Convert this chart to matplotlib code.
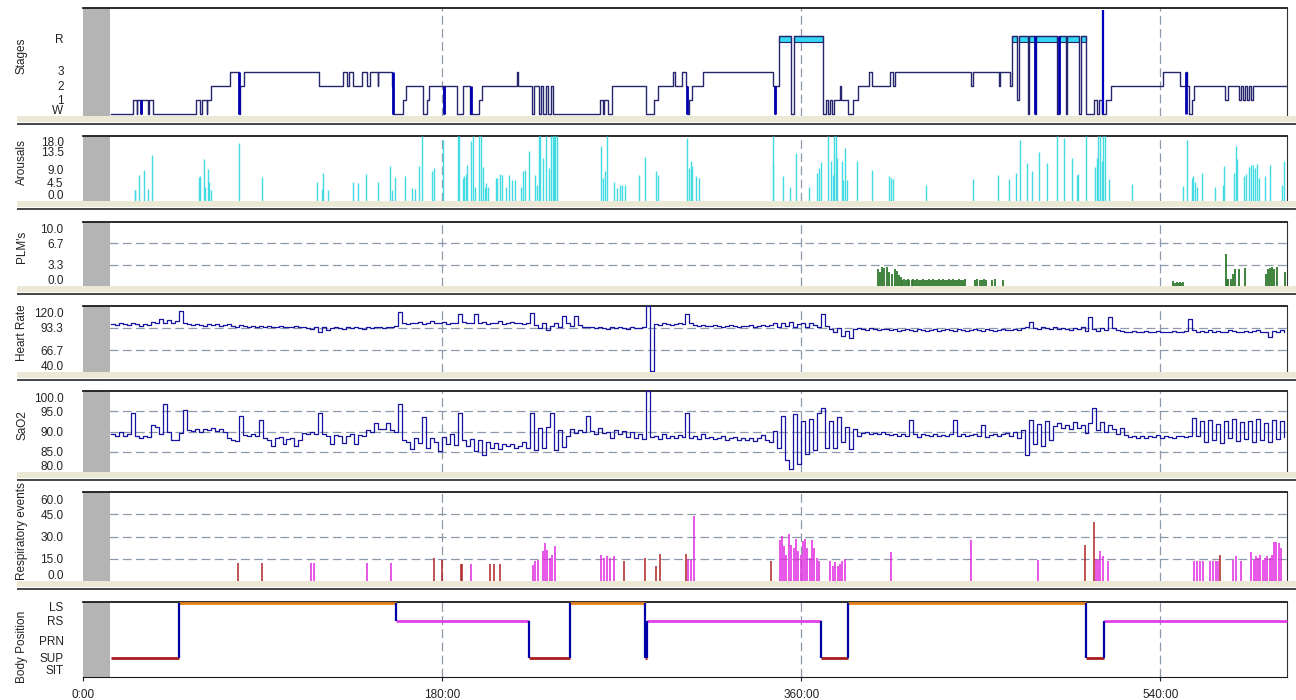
import matplotlib
matplotlib.use("Agg")
import matplotlib.pyplot as plt
from matplotlib.patches import Rectangle
import numpy

# ---- hypnogram (start minute of each run, stage code) ----
stage_start = [14.0, 25.2, 26.9, 27.3, 28.9, 29.2, 32.7, 33.2, 34.9, 56.5,
               58.6, 59.5, 62.0, 62.3, 64.0, 73.7, 78.3, 78.7, 80.9, 118.3,
               130.5, 132.2, 133.5, 135.5, 139.7, 142.2, 143.9, 147.7, 148.0, 154.9,
               155.5, 160.6, 161.9, 170.3, 172.3, 173.6, 180.8, 181.1, 187.6, 190.3,
               194.1, 198.6, 199.8, 217.4, 218.2, 224.9, 226.1, 228.7, 229.6, 230.7,
               231.9, 233.2, 234.4, 235.4, 259.1, 260.5, 261.2, 263.3, 265.0, 282.1,
               286.2, 288.4, 295.9, 296.7, 300.1, 302.3, 302.8, 304.0, 305.4, 310.9,
               345.9, 346.7, 347.1, 348.8, 354.7, 356.2, 370.8, 372.4, 373.4, 374.4,
               375.4, 376.2, 379.2, 380.0, 383.7, 386.2, 388.3, 394.1, 395.6, 404.6,
               406.0, 407.1, 444.9, 445.9, 459.1, 459.6, 464.7, 465.9, 468.0, 469.0,
               473.6, 474.2, 477.4, 477.7, 488.2, 489.0, 492.7, 493.2, 499.4, 500.1,
               502.6, 506.8, 508.5, 509.3, 510.8, 512.8, 515.1, 541.4, 549.7, 552.7,
               553.2, 554.4, 555.9, 557.1, 572.4, 573.9, 579.4, 580.4, 581.5, 582.5,
               583.5, 584.7, 585.7, 586.7]
stage_code = list("W1W1W1W1W1" "W1W123W232" "3232323232" "W12W12W2W2"
                  "W1232W2W2W" "2W2W1W1W2W" "123232W123" "2W2RWRW1W1"
                  "W121W12323" "2323232R1R" "WRWRWRWRWR" "W1W1W12323"
                  "2W12121212" "1212")
record_end = 603.5
stage_ticks = ["R", "3", "2", "1", "W"]
# short arousal / movement marks drawn heavier in the hypnogram
move_t = [28.9, 78.3, 155.5, 180.8, 194.3, 302.8, 346.7, 477.4, 489.0, 553.0]
move_top = ["1", "3", "3", "2", "2", "2", "2", "R", "R", "3"]
spike_t = [511.4]

# ---- arousals ----
arousal_t = [25.9, 26.2, 28.2, 30.6, 32.4, 34.7, 58.2, 58.7, 60.7, 61.3, 62.8, 63.3, 64.0,
             78.4, 89.6, 117.1, 119.8, 120.1, 123.0, 135.2, 137.7, 142.0, 147.7, 153.9,
             154.7, 156.4, 161.2, 164.9, 166.4, 168.6, 169.9, 175.1, 175.9, 180.3, 188.0,
             188.6, 190.3, 191.0, 192.0, 192.7, 194.3, 195.7, 196.3, 198.7, 199.3, 200.3,
             201.3, 202.0, 203.2, 207.0, 207.7, 209.0, 209.9, 212.0, 213.7, 215.0, 216.7,
             219.4, 220.4, 221.4, 223.7, 226.7, 227.4, 228.4, 229.1, 230.8, 232.1, 233.4,
             234.4, 235.4, 236.1, 236.8, 237.4, 259.8, 260.5, 261.8, 262.8, 266.2, 267.5,
             269.2, 270.2, 271.5, 278.9, 281.9, 287.2, 288.2, 303.0, 304.0, 304.6, 305.3,
             307.3, 309.0, 345.7, 346.0, 350.7, 354.4, 357.4, 363.8, 367.8, 368.8, 370.1,
             373.3, 374.8, 375.8, 376.6, 377.3, 378.1, 380.2, 381.1, 382.1, 383.1, 387.8,
             395.3, 404.1, 404.8, 405.8, 422.5, 445.9, 458.8, 464.3, 467.6, 469.6, 473.0,
             475.6, 479.0, 483.3, 488.0, 491.7, 495.9, 498.0, 498.9, 502.7, 507.2, 508.1,
             508.9, 509.7, 510.6, 511.4, 512.3, 514.4, 525.8, 551.2, 553.2, 555.7, 556.5,
             557.4, 558.5, 560.9, 567.2, 571.2, 571.9, 576.9, 577.9, 578.6, 581.9, 582.9,
             584.6, 585.6, 586.6, 587.4, 588.6, 589.3, 592.6, 595.0, 601.0, 602.0]
arousal_v = [3.0, 3.0, 7.3, 8.5, 3.2, 12.7, 6.7, 6.9, 11.5, 3.9, 9.0, 5.4, 3.0,
             16.0, 6.7, 5.3, 3.4, 7.8, 3.0, 5.3, 5.0, 7.6, 5.2, 9.7,
             3.0, 6.7, 6.8, 3.5, 3.4, 9.6, 18.0, 8.2, 9.1, 16.8, 18.0,
             18.0, 6.3, 6.8, 7.5, 10.1, 16.6, 18.0, 4.0, 18.0, 18.0, 9.3,
             3.5, 4.9, 4.0, 6.3, 6.5, 7.5, 7.3, 4.0, 7.3, 5.9, 5.9,
             4.0, 8.2, 8.7, 13.8, 7.3, 4.5, 18.0, 18.0, 11.9, 18.0, 9.1,
             18.0, 18.0, 18.0, 18.0, 18.0, 15.2, 6.3, 8.2, 18.0, 5.4, 3.5,
             4.5, 4.5, 4.5, 7.1, 12.2, 8.2, 7.1, 17.5, 9.1, 11.2, 9.6,
             6.8, 6.3, 10.5, 18.0, 6.8, 4.0, 13.3, 4.0, 7.7, 9.1, 10.8,
             18.0, 11.0, 7.3, 18.0, 18.0, 11.9, 11.0, 5.9, 14.6, 5.9, 11.2,
             8.7, 6.8, 6.3, 6.2, 4.3, 6.2, 7.1, 6.2, 7.7, 16.8, 10.5,
             8.2, 13.6, 10.5, 18.0, 17.4, 11.8, 7.3, 7.5, 18.0, 9.3, 11.9,
             18.0, 18.0, 11.2, 18.0, 18.0, 6.2, 4.7, 4.2, 16.8, 6.5, 6.8,
             5.4, 4.0, 7.7, 4.0, 4.3, 9.6, 7.7, 15.2, 11.5, 6.8, 7.5,
             9.3, 9.9, 10.1, 9.1, 10.3, 6.3, 6.8, 9.9, 4.5, 11.0]

# ---- periodic limb movements ----
plm_t = [398.6, 399.5, 400.3, 401.5, 402.8, 404.1, 405.3, 407.0, 408.1, 409.1, 409.8,
         410.5, 411.5, 412.4, 413.3, 414.2, 415.3, 416.2, 417.1, 418.0, 419.2, 420.1,
         421.0, 422.0, 423.1, 424.0, 424.9, 426.0, 427.0, 428.0, 428.9, 430.0, 431.0,
         432.0, 433.1, 434.0, 435.0, 436.0, 437.1, 438.0, 439.0, 440.0, 441.1, 442.2,
         447.2, 448.3, 449.4, 450.5, 451.6, 452.8, 455.6, 457.3, 461.0,
         546.5, 547.3, 548.2, 549.0, 549.8, 550.6, 551.5,
         572.7, 573.2, 574.1, 575.2, 576.6, 577.6, 579.3, 582.4,
         593.0, 594.1, 595.0, 596.0, 597.0, 598.3, 602.5]
plm_v = [2.7, 2.2, 3.0, 2.8, 3.0, 2.2, 1.9, 2.6, 2.3, 1.7, 1.4,
         1.0, 1.1, 1.0, 1.1, 1.0, 1.0, 1.1, 1.0, 1.1, 1.0, 1.0,
         1.1, 1.0, 1.0, 1.1, 1.0, 1.1, 1.0, 1.0, 1.1, 1.0, 1.1,
         1.0, 1.0, 1.1, 1.0, 1.1, 1.0, 1.0, 1.1, 1.0, 1.0, 1.1,
         1.0, 1.1, 1.0, 1.0, 1.1, 1.0, 1.0, 1.1, 1.0,
         0.8, 0.5, 0.6, 0.5, 0.6, 0.5, 0.6,
         5.05, 1.15, 1.04, 1.15, 1.9, 2.6, 2.7, 2.8,
         1.9, 2.6, 2.8, 3.0, 2.7, 3.0, 2.2]

# ---- heart rate and SaO2, one value every 2 min from minute 14 ----
trend_t0, trend_step = 14, 2
hr_bpm = [98, 97, 99, 98, 97, 99, 98, 96, 98, 97, 101, 99, 104, 100, 103,
          99, 102, 114, 99, 98, 97, 98, 97, 96, 98, 97, 98, 96, 97, 98,
          96, 95, 97, 96, 95, 96, 94, 96, 95, 96, 95, 94, 96, 95, 94,
          95, 96, 94, 95, 93, 92, 95, 88, 94, 91, 93, 94, 93, 92, 94,
          93, 94, 93, 92, 94, 93, 95, 94, 93, 95, 94, 96, 113, 100, 98,
          100, 99, 101, 98, 100, 102, 99, 100, 101, 98, 100, 99, 110, 101, 99,
          100, 110, 99, 101, 98, 100, 99, 102, 98, 99, 101, 100, 99, 98, 100,
          112, 97, 93, 99, 91, 96, 100, 94, 108, 99, 96, 108, 97, 95, 94,
          94, 93, 94, 93, 92, 94, 93, 94, 93, 92, 94, 93, 93, 94, 120,
          41, 98, 97, 99, 98, 97, 98, 99, 98, 110, 100, 97, 96, 97, 96,
          96, 97, 96, 95, 96, 97, 96, 95, 96, 96, 97, 95, 96, 97, 96,
          97, 99, 95, 100, 96, 101, 94, 98, 100, 95, 99, 97, 94, 110, 96,
          92, 88, 93, 84, 90, 81, 92, 93, 92, 91, 93, 92, 91, 92, 92,
          91, 92, 90, 91, 92, 91, 90, 92, 91, 90, 91, 92, 90, 91, 92,
          91, 90, 92, 91, 90, 91, 92, 91, 90, 92, 91, 90, 91, 92, 91,
          91, 92, 91, 93, 94, 101, 93, 92, 94, 93, 92, 95, 92, 93, 92,
          91, 93, 92, 94, 90, 107, 92, 90, 93, 91, 107, 93, 91, 90, 89,
          89, 90, 88, 89, 90, 89, 88, 90, 89, 88, 89, 90, 89, 88, 90,
          104, 91, 89, 90, 88, 91, 89, 90, 88, 89, 91, 90, 89, 88, 90,
          89, 90, 91, 88, 89, 82, 90, 88, 91, 89]
sao2 = [89.5, 89.0, 89.8, 88.8, 89.5, 94.6, 88.8, 88.5, 89.0, 88.7, 91.7, 91.0, 89.5, 96.7, 90.0,
        88.0, 87.9, 89.6, 95.4, 90.4, 90.2, 90.6, 90.0, 90.5, 90.3, 90.8, 90.2, 90.5, 90.0, 88.5,
        88.0, 87.6, 93.8, 89.2, 89.0, 89.4, 88.9, 92.9, 88.5, 88.0, 86.5, 88.3, 88.6, 86.8, 88.2,
        88.4, 86.3, 88.0, 89.6, 89.4, 89.8, 89.5, 94.6, 89.4, 88.9, 87.0, 89.1, 88.8, 87.2, 89.0,
        89.3, 87.0, 89.2, 88.9, 90.4, 90.0, 92.0, 90.5, 90.6, 92.1, 90.3, 89.9, 96.7, 88.0, 87.5,
        85.6, 88.4, 87.2, 93.5, 86.0, 88.3, 87.5, 85.2, 88.6, 87.0, 89.5, 86.6, 94.6, 87.9, 86.5,
        88.2, 85.3, 88.0, 84.2, 87.5, 86.0, 87.2, 85.8, 86.9, 86.4, 87.0, 85.9, 86.5, 87.3, 86.0,
        94.6, 85.4, 90.8, 86.0, 91.2, 94.6, 85.5, 90.3, 86.2, 89.0, 90.5, 89.7, 90.4, 89.8, 93.8,
        90.2, 89.5, 90.8, 89.6, 90.0, 88.5, 90.3, 89.4, 90.1, 88.7, 89.8, 88.4, 89.5, 88.2, 100.0,
        88.6, 88.9, 88.2, 89.3, 88.5, 89.0, 88.4, 89.2, 88.7, 94.6, 88.5, 89.0, 88.1, 89.3, 88.4,
        88.6, 88.2, 88.5, 88.8, 87.9, 88.3, 88.6, 87.8, 88.4, 88.0, 88.5, 87.6, 88.3, 89.2, 88.0,
        87.5, 90.2, 86.0, 93.8, 83.0, 80.8, 94.2, 82.0, 92.5, 84.5, 93.0, 85.5, 94.6, 95.8, 86.0,
        92.5, 86.0, 93.5, 87.5, 91.0, 85.8, 90.5, 89.0, 89.6, 89.8, 89.4, 89.7, 89.5, 89.9, 89.3,
        89.2, 89.5, 88.9, 89.4, 89.0, 92.9, 89.3, 88.7, 89.4, 89.1, 88.8, 89.5, 89.0, 89.2, 88.9,
        89.3, 92.9, 89.0, 89.4, 88.8, 89.2, 89.5, 89.0, 91.7, 88.7, 89.1, 89.4, 88.9, 89.3, 89.6,
        89.0, 89.8, 88.4, 90.3, 84.2, 92.9, 87.0, 91.8, 86.5, 92.5, 88.0, 91.4, 92.0, 90.8, 91.6,
        90.5, 92.4, 90.8, 91.5, 89.6, 92.2, 95.8, 90.4, 92.3, 89.8, 91.7, 90.6, 89.5, 90.8, 89.2,
        88.6, 89.0, 88.5, 88.9, 88.4, 88.8, 88.6, 89.1, 88.5, 88.9, 88.7, 88.4, 88.8, 89.0, 88.6,
        88.9, 93.3, 89.0, 92.5, 87.5, 92.8, 88.0, 91.9, 87.2, 92.6, 88.3, 93.0, 87.6, 92.4, 88.1,
        92.7, 87.4, 93.1, 88.0, 92.2, 87.5, 92.9, 88.2, 92.5, 88.6]

# ---- respiratory events (m = hypopnea, r = apnea) ----
resp_t = [77.5, 89.6, 114.3, 115.9, 142.2, 154.2, 176.1, 179.8, 189.6, 190.0, 194.7,
          204.2, 206.2, 209.0, 225.6, 226.8, 227.9, 230.5, 231.6, 232.8, 233.9, 235.1,
          236.5, 259.7, 261.1, 262.6, 264.3, 266.3, 271.2, 281.5, 287.2, 289.2, 302.1,
          303.5, 305.0, 306.4, 345.1, 349.4, 350.2, 351.4, 352.5, 353.9, 355.1, 356.2,
          357.4, 358.5, 359.7, 360.8, 362.0, 363.1, 364.2, 365.4, 366.5, 367.7, 368.8,
          374.3, 375.7, 377.1, 378.3, 379.4, 380.6, 381.7, 405.2, 445.3, 478.5, 502.0,
          506.6, 507.7, 508.9, 510.0, 511.2, 514.0, 557.0, 558.4, 559.9, 561.3, 565.0,
          566.2, 567.9, 569.0, 569.9, 576.5, 577.9, 580.5, 585.6, 586.8, 587.9, 589.1,
          590.2, 591.4, 592.5, 593.7, 594.8, 595.9, 597.1, 598.2, 599.4, 600.5]
resp_v = [12.0, 12.0, 12.0, 12.0, 12.0, 12.0, 15.5, 14.3, 11.6, 11.6, 11.6,
          11.6, 11.6, 11.6, 10.9, 13.2, 14.3, 20.0, 25.7, 21.1, 15.5, 17.7,
          23.4, 17.7, 15.5, 16.6, 15.5, 16.6, 13.2, 15.5, 10.2, 18.4, 18.4,
          15.0, 14.0, 43.9, 13.2, 27.9, 30.2, 23.4, 17.7, 31.4, 24.5, 22.3,
          28.4, 20.0, 17.7, 26.8, 28.4, 22.3, 15.5, 27.9, 22.3, 15.5, 13.2,
          13.2, 9.8, 12.5, 10.2, 11.6, 13.2, 14.8, 19.3, 27.9, 14.3, 24.5,
          39.8, 14.8, 14.3, 20.0, 16.6, 13.2, 13.2, 13.2, 13.2, 13.2, 13.2,
          13.2, 13.2, 13.2, 17.7, 14.3, 17.0, 13.2, 19.3, 14.3, 16.6, 15.5,
          17.7, 14.3, 15.5, 17.0, 15.5, 17.7, 26.1, 26.1, 25.7, 22.3]
resp_kind = list("rrmmmmrrrrm" "rrrmmmmmmmm" "mmmmmmrrrrr" "mmmrmmmmmmm"
                 "mmmmmmmmmmm" "mmmmmmmmmmr" "rmmmmmmmmmm" "mmmrmmmmmmm"
                 "mmmmmmmmmm")

# ---- body position ----
body_start = [14.0, 48.1, 156.9, 223.6, 244.1, 281.7, 282.7, 369.9, 383.5, 502.8, 511.8]
body_pos = ["SUP", "LS", "RS", "SUP", "LS", "SUP", "RS", "SUP", "LS", "SUP", "RS"]
body_ticks = ["LS", "RS", "PRN", "SUP", "SIT"]

time_ticks = [0, 180, 360, 540]
time_labels = ["0:00", "180:00", "360:00", "540:00"]

W, H = 1296, 700
GRID = dict(color="#8c98ac", lw=0.9, linestyle=(0, (7, 3.5)), zorder=1)


def plot():
    plt.rcParams["font.family"] = ["Liberation Sans", "DejaVu Sans"]
    plt.rcParams["font.size"] = 8.5
    fig = plt.figure(figsize=(W / 100, H / 100), dpi=100)

    # panel top / bottom in pixels
    panels = [(8, 116), (136, 201), (222, 286), (306, 372), (391, 472), (492, 581), (602, 677)]
    names = ["Stages", "Arousals", "PLM's", "Heart Rate", "SaO2", "Respiratory events", "Body Position"]
    name_y = [56, 162, 247, 333, 425, 531, 647]
    axes = []
    for (top, bottom), name, ny in zip(panels, names, name_y):
        ax = fig.add_axes([83 / W, 1 - bottom / H, (1287 - 83) / W, (bottom - top) / H])
        ax.set_xlim(0, record_end)
        ax.axvspan(0, 13.5, color="#b4b4b4", lw=0, zorder=2)
        for t in time_ticks[1:]:
            ax.axvline(t, **GRID)
        for s in ["left", "bottom"]:
            ax.spines[s].set_visible(False)
        ax.spines["top"].set_color("#1a1a1a")
        ax.spines["top"].set_linewidth(1.3)
        ax.spines["right"].set_color("#333333")
        ax.spines["right"].set_linewidth(0.8)
        ax.set_xticks([])
        ax.tick_params(axis="y", length=0, pad=14, colors="#222222")
        fig.text(22 / W, 1 - ny / H, name, rotation=90, ha="center", va="center", color="#222222")
        if bottom < 650:
            fig.add_artist(Rectangle((17 / W, 1 - (bottom + 6) / H), 1 - 17 / W, 6 / H,
                                     transform=fig.transFigure, color="#ebe8d6", lw=0))
            fig.add_artist(Rectangle((17 / W, 1 - (bottom + 8.5) / H), 1 - 17 / W, 1.6 / H,
                                     transform=fig.transFigure, color="#4a4a4a", lw=0))
        axes.append(ax)

    ax_st, ax_ar, ax_plm, ax_hr, ax_sa, ax_resp, ax_body = axes

    # stages
    level = {"W": 0, "1": 1, "2": 2, "3": 3, "R": 5.57}
    ys = [level[c] for c in stage_code]
    xs = stage_start + [record_end]
    ax_st.step(xs, ys + [ys[-1]], where="post", color="#26266e", lw=1.0, zorder=4)
    for i, c in enumerate(stage_code):
        if c == "R":
            ax_st.bar(xs[i], 0.43, width=xs[i + 1] - xs[i], bottom=5.14, align="edge",
                      color="#34d8f2", edgecolor="#26266e", lw=0.8, zorder=3)
    ax_st.vlines(move_t, 0, [level[c] for c in move_top], color="#0000b0", lw=2, zorder=5)
    ax_st.vlines(spike_t, 0, 7.45, color="#0000c0", lw=1.6, zorder=5)
    ax_st.set_ylim(-0.15, 7.57)
    ax_st.set_yticks([5.4, 3.1, 2.05, 1.05, 0.33], stage_ticks)

    # arousals
    ax_ar.vlines(arousal_t, 0, arousal_v, color="#40dbe3", lw=1.0, zorder=3)
    ax_ar.set_ylim(0, 18)
    ax_ar.set_yticks([16.5, 13.6, 8.7, 5.0, 1.9], ["18.0", "13.5", "9.0", "4.5", "0.0"])

    # PLM
    for g in [3.3, 6.7]:
        ax_plm.axhline(g, **GRID)
    ax_plm.vlines(plm_t, 0, plm_v, color="#2e7a2e", lw=1.3, zorder=3)
    ax_plm.set_ylim(0, 10)
    ax_plm.set_yticks([9.0, 6.7, 3.4, 1.0], ["10.0", "6.7", "3.3", "0.0"])

    t = numpy.arange(trend_t0, trend_t0 + trend_step * len(hr_bpm), trend_step)

    # heart rate
    for g in [66.7, 93.3]:
        ax_hr.axhline(g, **GRID)
    ax_hr.plot(t, hr_bpm, drawstyle="steps-post", color="#1414a0", lw=0.9, zorder=3)
    ax_hr.set_ylim(40, 120)
    ax_hr.set_yticks([112, 94.2, 65.8, 48.2], ["120.0", "93.3", "66.7", "40.0"])

    # SaO2
    for g in [85, 90, 95]:
        ax_sa.axhline(g, **GRID)
    ax_sa.plot(t, sao2, drawstyle="steps-post", color="#1414a0", lw=0.9, zorder=3)
    ax_sa.set_ylim(80, 100)
    ax_sa.set_yticks([98.3, 95, 90, 85, 81.7], ["100.0", "95.0", "90.0", "85.0", "80.0"])

    # respiratory events
    for g in [15, 30, 45]:
        ax_resp.axhline(g, **GRID)
    kind_color = {"m": "#e028e0", "r": "#b02222"}
    ax_resp.vlines(resp_t, 0, resp_v, color=[kind_color[k] for k in resp_kind], lw=1.1, zorder=3)
    ax_resp.set_ylim(0, 60)
    ax_resp.set_yticks([55, 45, 30, 15, 4.5], ["60.0", "45.0", "30.0", "15.0", "0.0"])

    # body position
    pos_level = {"SIT": 0, "SUP": 1, "PRN": 2, "RS": 3, "LS": 4}
    pos_color = {"SUP": "#a81c1c", "LS": "#e8801c", "RS": "#e040e8", "PRN": "#208020", "SIT": "#808080"}
    bx = body_start + [record_end]
    for i, p in enumerate(body_pos):
        ax_body.hlines(pos_level[p], bx[i], bx[i + 1], color=pos_color[p], lw=2,
                       zorder=4, clip_on=False)
        if i > 0:
            a, b = pos_level[body_pos[i - 1]], pos_level[p]
            ax_body.vlines(bx[i], min(a, b), max(a, b), color="#0000a8", lw=1.6, zorder=5)
    ax_body.set_ylim(-0.05, 4.07)
    ax_body.set_yticks([3.8, 3.03, 1.97, 1.02, 0.38], body_ticks)
    ax_body.spines["bottom"].set_visible(True)
    ax_body.spines["bottom"].set_color("#1a1a1a")
    ax_body.set_xticks(time_ticks, time_labels)
    ax_body.tick_params(axis="x", length=3, pad=6, colors="#222222")

    fig.savefig("out.png", dpi=100, facecolor="white")


if __name__ == "__main__":
    plot()
